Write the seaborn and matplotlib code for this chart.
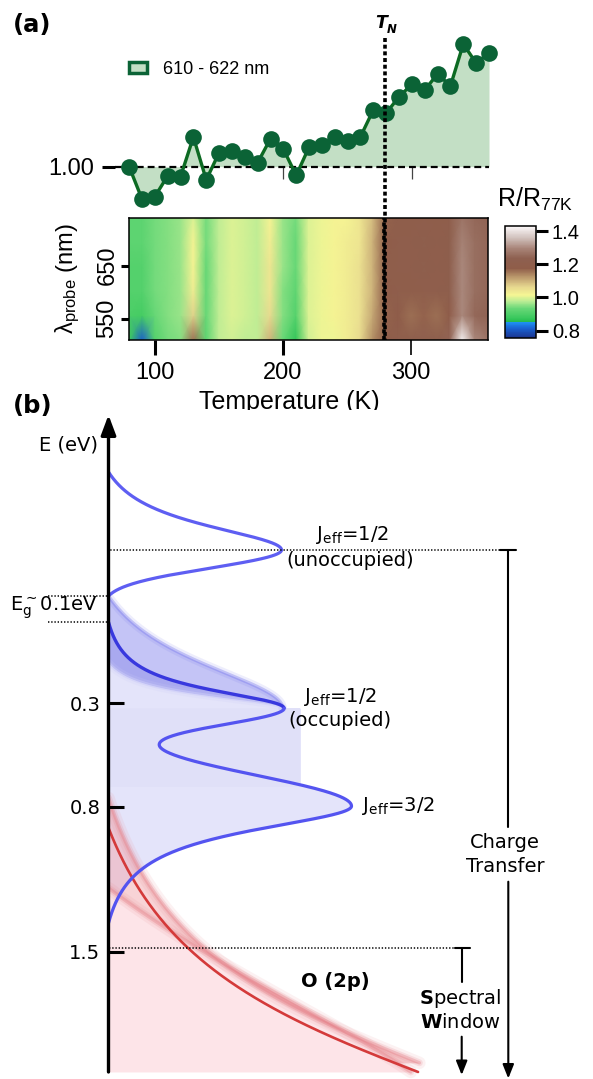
import numpy as np
import matplotlib
matplotlib.use("Agg")
import matplotlib.pyplot as plt
import seaborn as sns
import matplotlib.transforms as mtransforms
from matplotlib.colors import LinearSegmentedColormap, Normalize
from matplotlib.patches import Patch

# ======================= DATA : panel (a) =======================
temps_K = [80, 90, 100, 110, 120, 130, 140, 150, 160, 170, 180, 190, 200, 210, 220,
           230, 240, 250, 260, 270, 280, 290, 300, 310, 320, 330, 340, 350, 360]
ratio_610_622 = [1.000, 0.919, 0.925, 0.977, 0.975, 1.074, 0.967, 1.035, 1.040, 1.025,
                 1.010, 1.070, 1.044, 0.978, 1.049, 1.054, 1.074, 1.065, 1.075, 1.142,
                 1.134, 1.175, 1.206, 1.192, 1.232, 1.202, 1.307, 1.259, 1.285]
legend_label = "610 - 622 nm"
T_N = 279
temp_ticks = [100, 200, 300]

heat_wavelengths_nm = [510, 556, 602, 648, 694, 740]
r510 = [0.88, 0.81, 0.91, 0.94, 0.95, 1.16, 0.92, 0.98, 0.99, 0.98, 0.98, 1.10, 0.93, 0.87, 0.99,
        1.01, 1.01, 1.03, 1.06, 1.13, 1.18, 1.20, 1.21, 1.22, 1.21, 1.24, 1.42, 1.30, 1.27]
r556 = [0.90, 0.89, 0.93, 0.95, 0.96, 1.07, 0.93, 0.98, 1.00, 0.99, 0.98, 1.06, 0.95, 0.91, 1.00,
        1.01, 1.02, 1.03, 1.05, 1.11, 1.17, 1.18, 1.16, 1.17, 1.16, 1.18, 1.30, 1.25, 1.24]
r602 = [0.91, 0.91, 0.94, 0.95, 0.96, 1.03, 0.93, 0.98, 1.00, 0.99, 0.98, 1.04, 0.95, 0.92, 1.00,
        1.01, 1.02, 1.03, 1.05, 1.10, 1.18, 1.20, 1.19, 1.20, 1.20, 1.21, 1.30, 1.26, 1.25]
r648 = [0.91, 0.91, 0.94, 0.95, 0.96, 1.02, 0.93, 0.98, 1.00, 0.99, 0.98, 1.04, 0.96, 0.93, 1.00,
        1.01, 1.02, 1.03, 1.05, 1.10, 1.19, 1.20, 1.20, 1.21, 1.20, 1.21, 1.30, 1.26, 1.25]
r694 = [0.92, 0.92, 0.94, 0.95, 0.96, 1.02, 0.94, 0.98, 1.00, 0.99, 0.98, 1.03, 0.96, 0.93, 1.00,
        1.01, 1.02, 1.03, 1.04, 1.10, 1.18, 1.20, 1.20, 1.21, 1.20, 1.21, 1.29, 1.26, 1.25]
r740 = [0.92, 0.92, 0.94, 0.95, 0.96, 1.00, 0.94, 0.98, 1.00, 0.99, 0.98, 1.02, 0.96, 0.94, 1.00,
        1.01, 1.02, 1.02, 1.04, 1.09, 1.17, 1.19, 1.19, 1.20, 1.19, 1.20, 1.27, 1.25, 1.24]
heat_rows = [r510, r556, r602, r648, r694, r740]
wl_ticks = [550, 650]
cbar_range = (0.758, 1.432)
cbar_ticks = [0.8, 1.0, 1.2, 1.4]

# ======================= DATA : panel (b) schematic =======================
E_ticks = [0.3, 0.8, 1.5]
Eg_top, Eg_bottom = -0.216, -0.09          # gap edges (eV, schematic)
E_window = 1.48                            # spectral-window edge
E_axis_top, E_axis_bottom = -1.089, 2.079
E_lavender_edge = 0.705
lavender_width = 0.79
# peaks: center (eV), amplitude (arb.), side shapes (kind, width, cutoff)
unocc = dict(center=-0.438, amp=0.712, up=("l", 0.154, 0.376), lo=("g", 0.087, 0.222))
occ = dict(center=0.324, amp=0.716, up=("l", 0.111, 0.414), lo=("g", 0.082, 0.96))
occ_hi_up = ("l", 0.289, 0.540)
occ_lo_up = ("l", 0.077, 0.217)
j32 = dict(center=0.797, amp=1.0, up=("g", 0.149, 0.96), lo=("l", 0.149, 0.564))
o2p = dict(center=2.455, amp=1.84, up=("l", 0.627, 1.553), lo=("l", 0.627, 1.553))
o2p_hi = dict(center=2.388, amp=1.768, up=("l", 0.627, 1.63), lo=("l", 0.627, 1.63))
o2p_lo = dict(center=2.455, amp=1.498, up=("l", 1.205, 1.263), lo=("l", 1.205, 1.263))
o2p_hi_end = 2.035

# ======================= STYLE =======================
sns.set_style("white")
plt.rcParams["font.family"] = ["DejaVu Sans"]
plt.rcParams["mathtext.fontset"] = "custom"
plt.rcParams["mathtext.rm"] = "Liberation Sans"
plt.rcParams["mathtext.it"] = "Liberation Sans:italic"
plt.rcParams["mathtext.bf"] = "Liberation Sans:bold"
for k in ["text.color", "axes.labelcolor", "xtick.color", "ytick.color", "axes.edgecolor"]:
    plt.rcParams[k] = "black"

W, H = 593, 1079
fig = plt.figure(figsize=(W / 100, H / 100), dpi=100)


def add_ax(x0, y0, x1, y1):
    return fig.add_axes([x0 / W, 1 - y1 / H, (x1 - x0) / W, (y1 - y0) / H])


ARIAL = "Liberation Sans"
LINE_G, MARK_G, FILL_G = "#0c6a22", "#0b6336", "#c3dfc5"

# ---------------- panel (a): line ----------------
ax1 = add_ax(115, 30, 489, 205)
ax1.set_zorder(3)
ax1.patch.set_alpha(0)
ax1.fill_between(temps_K, ratio_610_622, 1.0, color=FILL_G, lw=0, zorder=3)
ax1.axhline(1.0, color="k", lw=1.6, dashes=(3.1, 1.8), zorder=4)
sns.lineplot(x=temps_K, y=ratio_610_622, ax=ax1, color=LINE_G, lw=2.4, marker="o",
             markersize=12, markerfacecolor=MARK_G, markeredgecolor=MARK_G,
             markeredgewidth=0, zorder=5, clip_on=False)
ax1.set_xlim(69, 360)
ax1.set_ylim(0.904, 1.342)
for s in ax1.spines.values():
    s.set_visible(False)
ax1.spines["bottom"].set_position(("data", 1.0))
ax1.set_xticks(temp_ticks)
ax1.set_xticklabels([])
ax1.set_yticks([1.0])
ax1.set_yticklabels(["1.00"])
ax1.set_xlabel("")
ax1.set_ylabel("")
ax1.tick_params(axis="x", bottom=True, direction="out", length=8.5, width=0.9, color="#444444")
ax1.tick_params(axis="y", left=True, direction="out", length=9.4, width=2.2, labelsize=17, pad=5.5)
for lab in ax1.get_yticklabels():
    lab.set_family(ARIAL)
ax1.legend(handles=[Patch(facecolor=FILL_G, edgecolor=MARK_G, lw=2.5)], labels=[legend_label],
           loc="center left", bbox_to_anchor=(129 / W, 1 - 69 / H), bbox_transform=fig.transFigure,
           frameon=False, handlelength=1.0, handleheight=0.55, handletextpad=0.89,
           borderpad=0, borderaxespad=0, prop={"family": ARIAL, "size": 13})

trans = mtransforms.blended_transform_factory(ax1.transData, ax1.transAxes)
ax1.plot([T_N, T_N], [(205 - 38) / 175, (205 - 340) / 175], transform=trans, color="k",
         lw=2.6, dashes=(1.1, 0.75), clip_on=False, zorder=10)
fig.text(375 / W, 1 - 28.3 / H, "T", fontsize=12.5, fontweight="bold", style="italic",
         ha="left", va="baseline")
fig.text(387 / W, 1 - 33.3 / H, "N", fontsize=8.5, fontweight="bold", style="italic",
         ha="left", va="baseline")
fig.text(13 / W, 1 - 25 / H, "(a)", fontsize=17.5, fontweight="bold", ha="left", va="center")

# ---------------- panel (a): heatmap ----------------
cstops = [(0.758, "#1b3590"), (0.814, "#1a62d2"), (0.848, "#1e90f0"), (0.852, "#22b848"),
          (0.870, "#34c65a"), (0.935, "#6ad878"), (0.975, "#b8ec94"), (1.015, "#f6f694"),
          (1.065, "#e6d68e"), (1.116, "#c0a070"), (1.176, "#8f5d49"), (1.236, "#8e6050"),
          (1.296, "#a88478"), (1.357, "#cfbfba"), (1.417, "#f4eeee"), (1.432, "#ffffff")]
lo_v, hi_v = cbar_range
cmap = LinearSegmentedColormap.from_list(
    "rr", [((v - lo_v) / (hi_v - lo_v), c) for v, c in cstops])
norm = Normalize(lo_v, hi_v)

ax2 = add_ax(129.3, 217.7, 487.7, 340)
mesh = ax2.pcolormesh(temps_K, heat_wavelengths_nm, np.array(heat_rows), shading="gouraud",
                      cmap=cmap, norm=norm)
ax2.set_xlim(80, 360)
ax2.set_ylim(510, 740)
ax2.axvline(T_N, color="k", lw=2.6, dashes=(1.1, 0.75), zorder=5)
for s in ax2.spines.values():
    s.set_visible(True)
    s.set_linewidth(1.1)
    s.set_color("k")
ax2.set_xticks(temp_ticks)
ax2.set_yticks(wl_ticks)
ax2.set_yticklabels([str(w) for w in wl_ticks], rotation=90, va="center")
ax2.tick_params(axis="x", bottom=True, direction="out", length=10.8, width=2.2, labelsize=17, pad=5)
ax2.tick_params(axis="y", left=True, direction="out", length=5.8, width=2.2, labelsize=17, pad=2)
ax2.xaxis.get_major_ticks()[2].tick1line.set_markeredgewidth(1.2)
for lab in ax2.get_xticklabels() + ax2.get_yticklabels():
    lab.set_family(ARIAL)
ax2.set_xlabel("Temperature (K)", fontsize=18, family=ARIAL)
ax2.xaxis.set_label_coords(0.4456, -0.41)
ax2.set_ylabel(r"λ$_{\mathrm{probe}}$ (nm)", fontsize=17, family=ARIAL)
ax2.yaxis.set_label_coords(-0.132, 0.5)

cax = add_ax(505, 225.7, 535.7, 337.7)
cb = fig.colorbar(mesh, cax=cax, ticks=cbar_ticks)
cb.outline.set_linewidth(1.1)
cb.ax.set_yticklabels([f"{t:.1f}" for t in cbar_ticks])
cax.tick_params(right=True, length=8.6, width=2.2, labelsize=14.5, pad=3)
for lab in cax.get_yticklabels():
    lab.set_family(ARIAL)
fig.text(497 / W, 1 - 207 / H, r"R/R$_{\mathrm{77K}}$", fontsize=18, family=ARIAL,
         ha="left", va="baseline")

# ---------------- panel (b): schematic DOS ----------------
def side(d, kind, w, cut):
    if kind == "g":
        g, gc = np.exp(-0.5 * (d / w) ** 2), np.exp(-0.5 * (cut / w) ** 2)
    else:
        g, gc = 1 / (1 + (d / w) ** 2), 1 / (1 + (cut / w) ** 2)
    f = (g - gc) / (1 - gc)
    return np.where(d <= cut, np.clip(f, 0, None), 0.0)


def peak(E, center, amp, up, lo):
    d = E - center
    return amp * np.where(d < 0, side(-d, *up), side(d, *lo))


def px2x(px):
    return (px - 108.5) / 243


def px2E(py):
    return (py - 640.8) / 207.4


ax3 = add_ax(108.5, 410, 593, 1079)
ax3.set_xlim(0, px2x(593))
ax3.set_ylim(px2E(1079), px2E(410))
ax3.set_axisbelow(False)
for s in ax3.spines.values():
    s.set_visible(False)

E = np.linspace(-1.0, 2.1, 5000)
y_unocc = peak(E, **unocc)
y_occ = peak(E, **occ)
y_occ_hi = peak(E, occ["center"], occ["amp"], occ_hi_up, occ["lo"])
y_occ_lo = peak(E, occ["center"], occ["amp"], occ_lo_up, occ["lo"])
y_j32 = peak(E, **j32)
y_low = y_occ + y_j32
y_o = peak(E, **o2p)
y_oh = peak(E, **o2p_hi)
y_ol = peak(E, **o2p_lo)

low_start = occ["center"] - occ["up"][2]
low_end = j32["center"] + j32["lo"][2]

# lavender fills
ax3.fill_betweenx([occ["center"], E_lavender_edge], 0, lavender_width, color="#e0e0f8", lw=0, zorder=1)
m = (E >= occ["center"]) & (E <= low_end)
ax3.fill_betweenx(E[m], 0, np.where(E[m] <= E_lavender_edge, np.maximum(y_low[m], lavender_width), y_low[m]),
                  color="#e4e4fa", lw=0, zorder=0.9)
m = (E >= E_lavender_edge) & (E <= low_end)
ax3.fill_betweenx(E[m], 0, y_low[m], color="#e4e4fa", lw=0, zorder=1)
m = (E >= Eg_top) & (E <= occ["center"])
ax3.fill_betweenx(E[m], 0, y_occ_lo[m], color="#e4e4fa", lw=0, zorder=1)
ax3.fill_betweenx(E[m], y_occ_lo[m], y_low[m], color="#a9a9ef", lw=0, zorder=1)
ax3.fill_betweenx(E[m], y_low[m], y_occ_hi[m], color="#c4c4f6", lw=0, zorder=1)
for lw_, a_ in [(6, 0.12), (2.5, 0.35)]:
    mh = (E >= Eg_top) & (E <= occ["center"])
    ax3.plot(y_occ_hi[mh], E[mh], color="#7070ec", lw=lw_, alpha=a_, zorder=2)
    ml = (E >= occ["center"] - occ_lo_up[2]) & (E <= occ["center"])
    ax3.plot(y_occ_lo[ml], E[ml], color="#ccccf8", lw=lw_, alpha=a_ * 1.5, zorder=2)

# pink O(2p) fills
hi_start = o2p_hi["center"] - o2p_hi["up"][2]
lo_start = o2p_lo["center"] - o2p_lo["up"][2]
main_start = o2p["center"] - o2p["up"][2]
E_bot = E_axis_bottom
m = (E >= lo_start) & (E <= E_bot)
ax3.fill_betweenx(E[m], 0, y_ol[m], color="#fde2e6", alpha=0.92, lw=0, zorder=2)
m = (E >= hi_start) & (E <= o2p_hi_end)
ax3.fill_betweenx(E[m], y_ol[m], y_oh[m], color="#f2a8ae", alpha=0.5, lw=0, zorder=2)
for lw_, a_ in [(9, 0.10), (5, 0.18), (2.5, 0.35)]:
    ax3.plot(y_oh[m], E[m], color="#e47c84", lw=lw_, alpha=a_, zorder=3, solid_capstyle="round")
    ml = (E >= lo_start) & (E <= E_bot)
    ax3.plot(y_ol[ml], E[ml], color="#e47c84", lw=lw_, alpha=a_, zorder=3, solid_capstyle="round")
m = (E >= main_start) & (E <= E_bot)
ax3.plot(y_o[m], E[m], color="#d43a3a", lw=1.9, zorder=4)

# blue DOS lines
m = (E >= unocc["center"] - unocc["up"][2]) & (E <= unocc["center"] + unocc["lo"][2])
ax3.plot(y_unocc[m], E[m], color="#5e5ef2", lw=2.3, zorder=5)
m = (E >= low_start) & (E <= occ["center"])
ax3.plot(y_low[m], E[m], color="#3838de", lw=2.4, zorder=5)
m = (E >= occ["center"]) & (E <= low_end)
ax3.plot(y_low[m], E[m], color="#5454f0", lw=2.3, zorder=5)

# energy axis
ax3.annotate("", xy=(0, E_axis_top), xytext=(0, E_axis_bottom), xycoords="data",
             arrowprops=dict(arrowstyle="-|>,head_length=0.8,head_width=0.3", lw=2.4, color="k",
                             mutation_scale=15, shrinkA=0, shrinkB=0),
             annotation_clip=False, zorder=7)
ax3.set_xticks([])
ax3.set_yticks(E_ticks)
ax3.set_yticklabels([f"{t:.1f}" for t in E_ticks])
ax3.tick_params(axis="y", left=True, direction="in", length=10.8, width=2.2, labelsize=14, pad=6)
ax3.yaxis.set_zorder(8)

# dotted guides and brackets
dot = dict(color="k", lw=1.1, dashes=(0.9, 1.2), zorder=6, clip_on=False)
ax3.plot([px2x(106.7), px2x(500)], [unocc["center"]] * 2, **dot)
ax3.plot([px2x(48), 0], [Eg_top] * 2, **dot)
ax3.plot([px2x(48), 0], [Eg_bottom] * 2, **dot)
ax3.plot([0, px2x(455)], [E_window] * 2, **dot)
brk = dict(color="k", lw=1.5, zorder=6, clip_on=False)
arr = dict(arrowstyle="-|>,head_length=0.7,head_width=0.28", lw=1.5, color="k",
           mutation_scale=12, shrinkA=0, shrinkB=0)
xc = px2x(508.3)
ax3.plot([px2x(500), px2x(516)], [unocc["center"]] * 2, **brk)
ax3.plot([xc, xc], [unocc["center"], px2E(827)], **brk)
ax3.annotate("", xy=(xc, px2E(1078.5)), xytext=(xc, px2E(881.7)), arrowprops=arr,
             annotation_clip=False)
xs = px2x(461.7)
ax3.plot([px2x(455), px2x(470)], [E_window] * 2, **brk)
ax3.plot([xs, xs], [E_window, px2E(981.7)], **brk)
ax3.annotate("", xy=(xs, px2E(1075)), xytext=(xs, px2E(1036.7)), arrowprops=arr,
             annotation_clip=False)

# texts
TX = dict(fontsize=14, math_fontfamily="dejavusans", clip_on=False)
ax3.text(px2x(98), px2E(445), "E (eV)", ha="right", va="center", **TX)
ax3.text(px2x(98), px2E(608), r"E$_{\mathrm{g}}^{\sim}$0.1eV", ha="right", va="center", **TX)
ax3.text(px2x(352), px2E(535), r"J$_{\mathrm{eff}}$=1/2", ha="center", va="center", **TX)
ax3.text(px2x(350), px2E(560), "(unoccupied)", ha="center", va="center", **TX)
ax3.text(px2x(340), px2E(696.7), r"J$_{\mathrm{eff}}$=1/2", ha="center", va="center", **TX)
ax3.text(px2x(340), px2E(720), "(occupied)", ha="center", va="center", **TX)
ax3.text(px2x(362), px2E(805.7), r"J$_{\mathrm{eff}}$=3/2", ha="left", va="center", **TX)
ax3.text(px2x(335), px2E(981.7), "O (2p)", ha="center", va="center", fontweight="bold", **TX)
ax3.text(px2x(505), px2E(843), "Charge", ha="center", va="center", **TX)
ax3.text(px2x(505), px2E(866.7), "Transfer", ha="center", va="center", **TX)
ax3.text(px2x(460), px2E(998.3), r"$\mathbf{S}$pectral", ha="center", va="center", **TX)
ax3.text(px2x(460), px2E(1022.7), r"$\mathbf{W}$indow", ha="center", va="center", **TX)
fig.text(13 / W, 1 - 406 / H, "(b)", fontsize=17.5, fontweight="bold", ha="left", va="center")

fig.savefig("out.png", dpi=100)
